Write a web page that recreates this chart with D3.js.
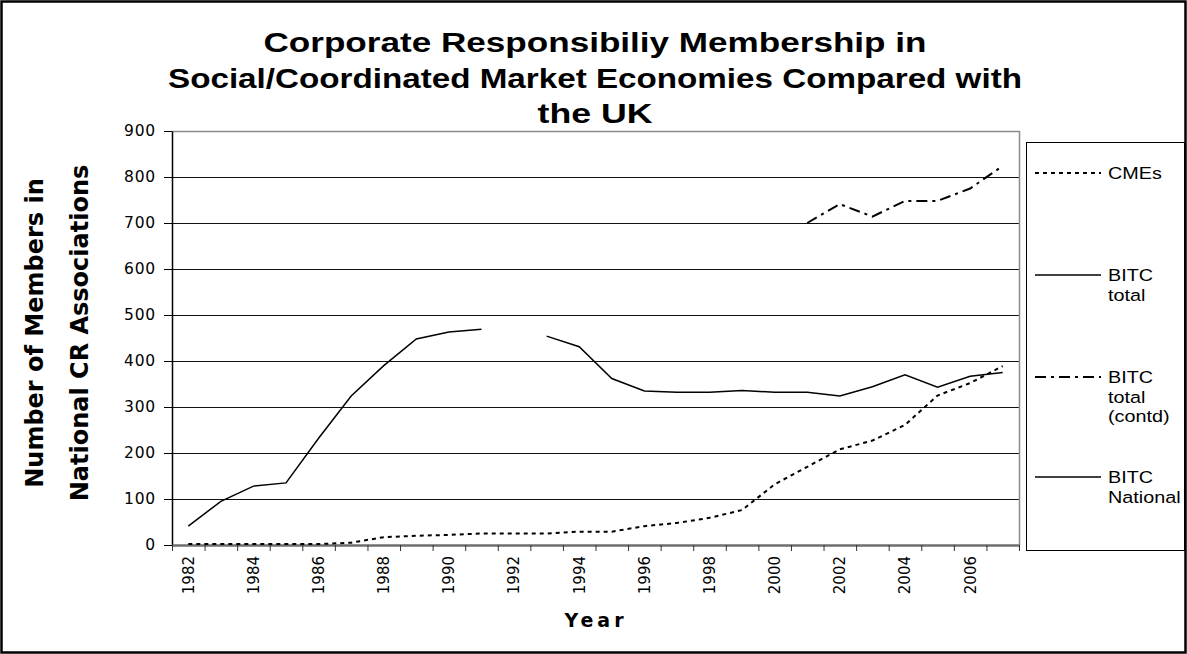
<!DOCTYPE html>
<html>
<head>
<meta charset="utf-8">
<title>CR membership</title>
<script src="https://cdnjs.cloudflare.com/ajax/libs/d3/7.8.5/d3.min.js"></script>
<style>
body{margin:0;padding:0;background:#fff;}
svg{display:block;}
</style>
</head>
<body>
<div id="chart"></div>
<script>
// values (1982-2007)
var years = ["1982","1983","1984","1985","1986","1987","1988","1989","1990","1991","1992","1993","1994",
             "1995","1996","1997","1998","1999","2000","2001","2002","2003","2004","2005","2006","2007"];
var cmes = [2,2,2,2,2,5,17,20,22,25,25,25,29,29,41,48,59,76,132,170,208,227,261,325,352,389];
var bitcTotal = [41,95,128,135,232,324,390,448,463,469,null,null,null,
                 null,null,null,null,null,null,null,null,null,null,null,null,null];
var bitcContd = [null,null,null,null,null,null,null,null,null,null,null,null,null,
                 null,null,null,null,null,null,700,741,714,748,748,775,824];
var bitcNational = [null,null,null,null,null,null,null,null,null,null,null,454,431,
                    362,335,332,332,336,332,332,324,344,370,343,367,375];
var yTicks = [0,100,200,300,400,500,600,700,800,900];
var titleLines = ["Corporate Responsibiliy Membership in",
                  "Social/Coordinated Market Economies Compared with",
                  "the UK"];
var legendNames = [["CMEs"],["BITC","total"],["BITC","total","(contd)"],["BITC","National"]];

(function(){
    var W = 1187, H = 654,
        L = 172, R = 1019, T = 131, B = 545;

    var svg = d3.select("#chart").append("svg")
        .attr("width", W).attr("height", H);

    svg.append("rect").attr("width", W).attr("height", H).attr("fill", "#fff");

    var x = d3.scaleBand().domain(years).range([L, R]).padding(0);
    var xi = d3.scaleLinear().domain([0, years.length]).range([L, R]);
    var y = d3.scaleLinear().domain([0, 900]).range([B, T]);

    // grid
    svg.append("g").selectAll("line").data(yTicks.filter(function(d){return d > 0 && d < 900;}))
        .enter().append("line")
        .attr("x1", L).attr("x2", R)
        .attr("y1", function(d){return Math.round(y(d)) + 0.5;})
        .attr("y2", function(d){return Math.round(y(d)) + 0.5;})
        .attr("stroke", "#111").attr("stroke-width", 1.2);

    // plot border top / right
    svg.append("path")
        .attr("d", "M" + L + "," + (T + 0.5) + "H" + (R + 0.5) + "V" + B)
        .attr("fill", "none").attr("stroke", "#8c8c8c").attr("stroke-width", 1.5);

    // y axis
    var ya = svg.append("g").attr("transform", "translate(" + L + ",0)")
        .call(d3.axisLeft(y).tickValues(yTicks).tickSize(8).tickSizeOuter(0).tickPadding(8));
    ya.select(".domain").attr("stroke", "#000").attr("stroke-width", 1.5);
    ya.selectAll(".tick line").attr("stroke", "#000");
    ya.selectAll("text")
        .attr("font-family", "DejaVu Sans, sans-serif").attr("font-size", 15.5)
        .attr("fill", "#000").attr("letter-spacing", 0.8);

    // x axis: tick marks between categories
    var xt = svg.append("g").attr("transform", "translate(0," + B + ")")
        .call(d3.axisBottom(xi).tickValues(d3.range(years.length + 1)).tickFormat("").tickSize(6).tickSizeOuter(0));
    xt.select(".domain").attr("stroke", "#6e6e6e").attr("stroke-width", 2.5);
    xt.selectAll(".tick line").attr("stroke", "#333");

    var xl = svg.append("g").attr("transform", "translate(0," + B + ")")
        .call(d3.axisBottom(x).tickValues(years.filter(function(d, i){return i % 2 == 0;})).tickSize(0));
    xl.select(".domain").remove();
    xl.selectAll("text")
        .attr("font-family", "DejaVu Sans, sans-serif").attr("font-size", 15).attr("fill", "#000")
        .attr("text-anchor", "end")
        .attr("transform", function(){return "translate(0,11) rotate(-90)";})
        .attr("x", 0).attr("y", 0).attr("dy", "0.36em");

    // series
    var line = function(vals){
        return d3.line()
            .defined(function(d){return d != null;})
            .x(function(d, i){return x(years[i]) + x.bandwidth() / 2;})
            .y(function(d){return y(d);})(vals);
    };
    var series = [
        {v: cmes, dash: "4,4", w: 2},
        {v: bitcTotal, dash: null, w: 1.5},
        {v: bitcContd, dash: "11,5,3,5", w: 2},
        {v: bitcNational, dash: null, w: 1.5}
    ];
    svg.append("g").selectAll("path").data(series).enter().append("path")
        .attr("d", function(d){return line(d.v);})
        .attr("fill", "none").attr("stroke", "#000")
        .attr("stroke-width", function(d){return d.w;})
        .attr("stroke-dasharray", function(d){return d.dash;});

    // title
    var tw = [663, 854, 115];
    svg.append("g").selectAll("text").data(titleLines).enter().append("text")
        .attr("x", 595).attr("y", function(d, i){return 52 + i * 35.5;})
        .attr("text-anchor", "middle")
        .attr("font-family", "Liberation Sans, Arial, sans-serif").attr("font-weight", "bold")
        .attr("font-size", 27)
        .attr("textLength", function(d, i){return tw[i];})
        .attr("lengthAdjust", "spacingAndGlyphs")
        .text(function(d){return d;});

    // axis titles
    var yt = ["Number of Members in", "National CR Associations"];
    svg.append("g").selectAll("text").data(yt).enter().append("text")
        .attr("transform", function(d, i){return "translate(" + (43 + i * 45) + ",333) rotate(-90)";})
        .attr("text-anchor", "middle")
        .attr("font-family", "DejaVu Sans, sans-serif").attr("font-weight", "bold").attr("font-size", 24)
        .text(function(d){return d;});

    svg.append("text").attr("x", 596).attr("y", 627).attr("text-anchor", "middle")
        .attr("font-family", "DejaVu Sans, sans-serif").attr("font-weight", "bold").attr("font-size", 19)
        .attr("letter-spacing", 4)
        .text("Year");

    // legend
    var lg = svg.append("g");
    lg.append("rect").attr("x", 1026.5).attr("y", 142.5).attr("width", 158).attr("height", 408)
        .attr("fill", "#fff").attr("stroke", "#000").attr("stroke-width", 1);
    var ly = [173, 275, 377, 477];
    var item = lg.selectAll("g.item").data(series).enter().append("g")
        .attr("transform", function(d, i){return "translate(1035," + ly[i] + ")";});
    item.append("line").attr("x1", 0).attr("x2", 66).attr("y1", 0).attr("y2", 0)
        .attr("stroke", "#000")
        .attr("stroke-width", function(d){return d.w;})
        .attr("stroke-dasharray", function(d){return d.dash;});
    item.each(function(d, i){
        d3.select(this).selectAll("text").data(legendNames[i]).enter().append("text")
            .attr("transform", function(t, j){return "translate(73," + (6 + j * 19.5) + ") scale(1.2,1)";})
            .attr("font-family", "Liberation Sans, Arial, sans-serif").attr("font-size", 16.5)
            .text(function(t){return t;});
    });

    // outer border
    svg.append("rect").attr("x", 1.5).attr("y", 1.5).attr("width", W - 3).attr("height", H - 3)
        .attr("fill", "none").attr("stroke", "#000").attr("stroke-width", 2.5);
})();
</script>
</body>
</html>
